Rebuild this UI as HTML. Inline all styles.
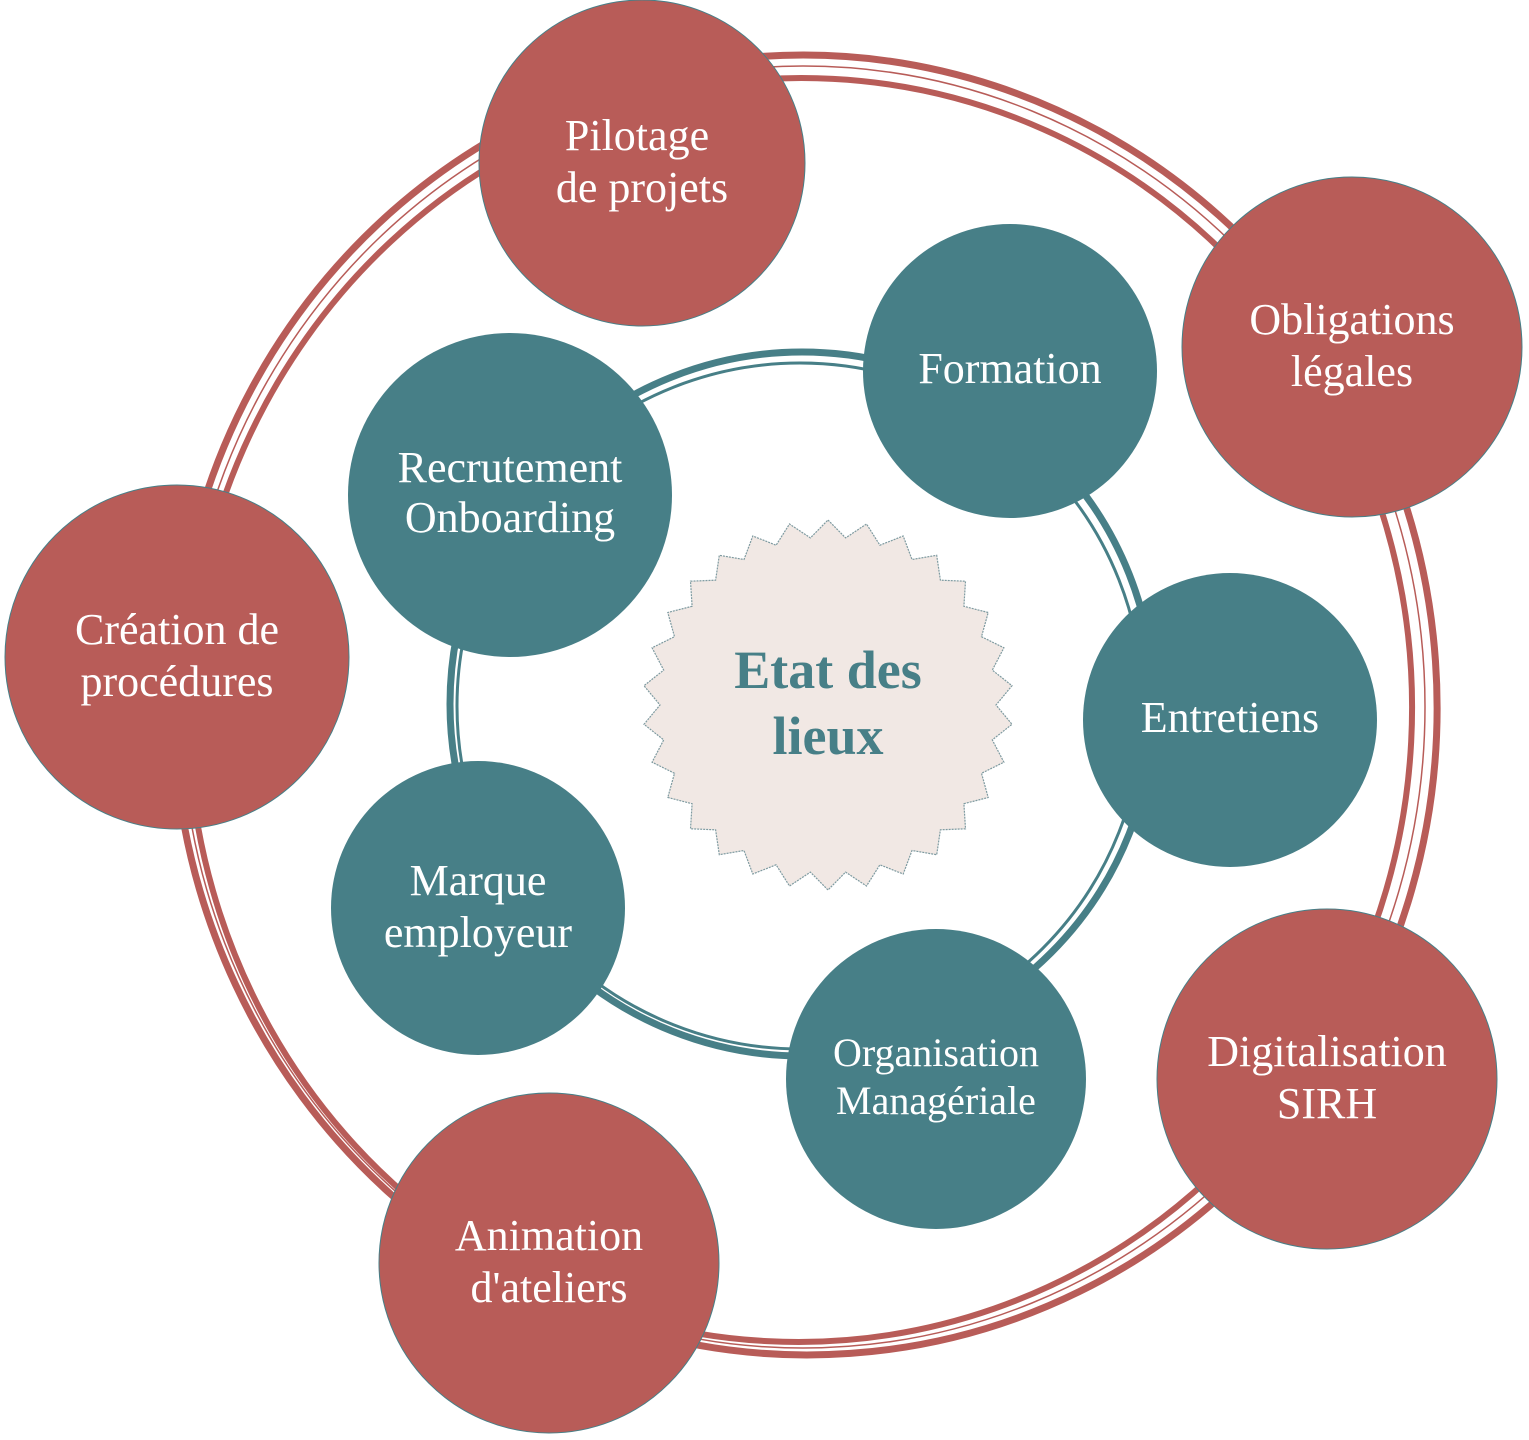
<!DOCTYPE html>
<html><head><meta charset="utf-8"><style>
html,body{margin:0;padding:0;background:#fff;}
svg{display:block;}
text{font-family:"Liberation Serif",serif;fill:#fff;text-anchor:middle;}
</style></head><body>
<svg width="1529" height="1440" viewBox="0 0 1529 1440">
<g fill="none" stroke="#b85c58">
<ellipse cx="805" cy="705" rx="632" ry="650" stroke-width="7" transform="rotate(-4 805 705)"/>
<ellipse cx="800" cy="710" rx="612" ry="632" stroke-width="6" transform="rotate(3 800 710)"/>
<ellipse cx="803" cy="707" rx="622" ry="641" stroke-width="1.5"/>
</g>
<g fill="none" stroke="#477f87">
<circle cx="802" cy="704" r="352" stroke-width="7"/>
<circle cx="800" cy="706" r="343" stroke-width="3"/>
</g>
<polygon id="star" fill="#f1e8e4" stroke="#7e9aa0" stroke-width="1.2" stroke-dasharray="2 1"/>
<text x="828" y="688" style="font-size:54px;font-weight:bold;fill:#477f87">Etat des</text>
<text x="828" y="754" style="font-size:54px;font-weight:bold;fill:#477f87">lieux</text>
<g fill="#b85c58" stroke="#477f87" stroke-width="1">
<circle cx="642" cy="163" r="163"/>
<circle cx="1352" cy="347" r="170"/>
<circle cx="177" cy="657" r="172"/>
<circle cx="1327" cy="1079" r="170"/>
<circle cx="549" cy="1263" r="170"/>
</g>
<g fill="#477f87">
<circle cx="1010" cy="371" r="147"/>
<circle cx="510" cy="495" r="162"/>
<circle cx="1230" cy="720" r="147"/>
<circle cx="478" cy="908" r="147"/>
<circle cx="936" cy="1079" r="150"/>
</g>
<g style="font-size:44px">
<text x="637" y="150">Pilotage</text><text x="642" y="202">de projets</text>
<text x="1352" y="334">Obligations</text><text x="1352" y="386">légales</text>
<text x="177" y="644">Création de</text><text x="177" y="696">procédures</text>
<text x="1327" y="1066">Digitalisation</text><text x="1327" y="1118">SIRH</text>
<text x="549" y="1250">Animation</text><text x="549" y="1302">d'ateliers</text>
<text x="1010" y="383">Formation</text>
<text x="510" y="482">Recrutement</text><text x="510" y="532">Onboarding</text>
<text x="1230" y="732">Entretiens</text>
<text x="478" y="895">Marque</text><text x="478" y="947">employeur</text>
</g>
<g style="font-size:40px">
<text x="936" y="1066">Organisation</text><text x="936" y="1114">Managériale</text>
</g>
</svg>
<script>
var p=[],n=30,cx=828,cy=705;
for(var i=0;i<2*n;i++){var r=i%2?168:185,a=Math.PI*i/n-Math.PI/2;p.push((cx+r*Math.cos(a)).toFixed(1)+","+(cy+r*Math.sin(a)).toFixed(1));}
document.getElementById("star").setAttribute("points",p.join(" "));
</script>
</body></html>
